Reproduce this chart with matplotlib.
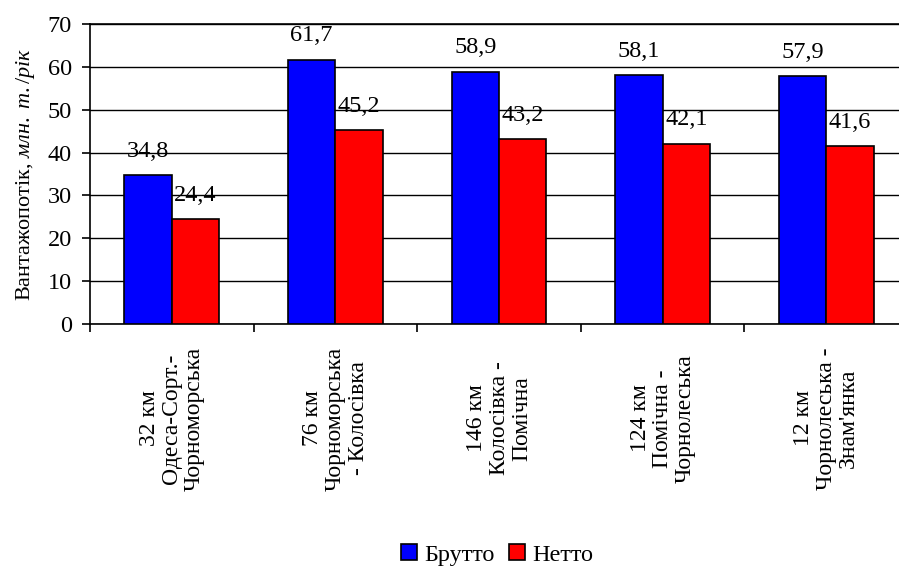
import numpy as np
import matplotlib
matplotlib.use("Agg")
import matplotlib.pyplot as plt
from matplotlib.patches import Patch

plt.rcParams['font.family'] = ['Liberation Serif', 'DejaVu Serif']
plt.rcParams['mathtext.fontset'] = 'custom'
plt.rcParams['mathtext.rm'] = 'Liberation Serif'
plt.rcParams['mathtext.it'] = 'Liberation Serif:italic'

# Railway sections (length and station pair)
sections = [
    "32 км\nОдеса-Сорт.-\nЧорноморська",
    "76 км\nЧорноморська\n- Колосівка",
    "146 км\nКолосівка -\nПомічна",
    "124 км\nПомічна -\nЧорнолеська",
    "12 км\nЧорнолеська -\nЗнам'янка",
]
gross = [34.8, 61.7, 58.9, 58.1, 57.9]   # Брутто
net = [24.4, 45.2, 43.2, 42.1, 41.6]     # Нетто
series_names = ["Брутто", "Нетто"]
y_ticks = [0, 10, 20, 30, 40, 50, 60, 70]

BLUE = "#0000FF"
RED = "#FF0000"
FS = 17.5

fig = plt.figure(figsize=(8.99, 5.70), dpi=100)
ax = fig.add_axes([90 / 899, (570 - 324) / 570, 818 / 899, 300 / 570])

x = np.arange(len(sections))
w = 0.29
b1 = ax.bar(x - w / 2, gross, w, color=BLUE, edgecolor="black", linewidth=1.2, zorder=3)
b2 = ax.bar(x + w / 2, net, w, color=RED, edgecolor="black", linewidth=1.2, zorder=3)

for bars, vals in ((b1, gross), (b2, net)):
    for rect, v in zip(bars, vals):
        ax.annotate(f"{v:.1f}".replace(".", ","),
                    xy=(rect.get_x() + rect.get_width() / 2, v),
                    xytext=(0, 17), textcoords="offset points",
                    ha="center", va="center", fontsize=FS, zorder=4)

ax.set_xlim(-0.5, len(sections) - 0.5)
ax.set_ylim(0, 70)
ax.set_yticks(y_ticks)
ax.yaxis.grid(True, color="black", linewidth=1.0, zorder=0)
ax.set_axisbelow(True)

# category boundaries carry the tick marks, centres carry the labels
ax.set_xticks(np.arange(len(sections) + 1) - 0.5)
ax.set_xticklabels([])
ax.set_xticks(x, minor=True)
ax.set_xticklabels(sections, minor=True, rotation=90, ha="center", va="center",
                   multialignment="center", fontsize=17, linespacing=1.1)
ax.tick_params(axis="x", which="major", direction="out", length=6, width=1.2)
ax.tick_params(axis="x", which="minor", length=0, pad=68)
ax.tick_params(axis="y", direction="out", length=6, width=1.2, labelsize=FS, pad=7)

for s in ("left", "bottom", "top"):
    ax.spines[s].set_linewidth(1.2)
ax.spines["right"].set_visible(False)

ax.set_ylabel("Вантажопотік, $\\mathit{млн.\\ т./рік}$", fontsize=16, labelpad=8)

handles = [Patch(facecolor=BLUE, edgecolor="black", linewidth=1.2),
           Patch(facecolor=RED, edgecolor="black", linewidth=1.2)]
fig.legend(handles, series_names, loc="center", bbox_to_anchor=(497 / 899, (570 - 555) / 570),
           ncol=2, frameon=False, fontsize=FS, handlelength=0.65, handleheight=0.65,
           handletextpad=0.3, columnspacing=0.6)

fig.savefig("out.png", dpi=100)
